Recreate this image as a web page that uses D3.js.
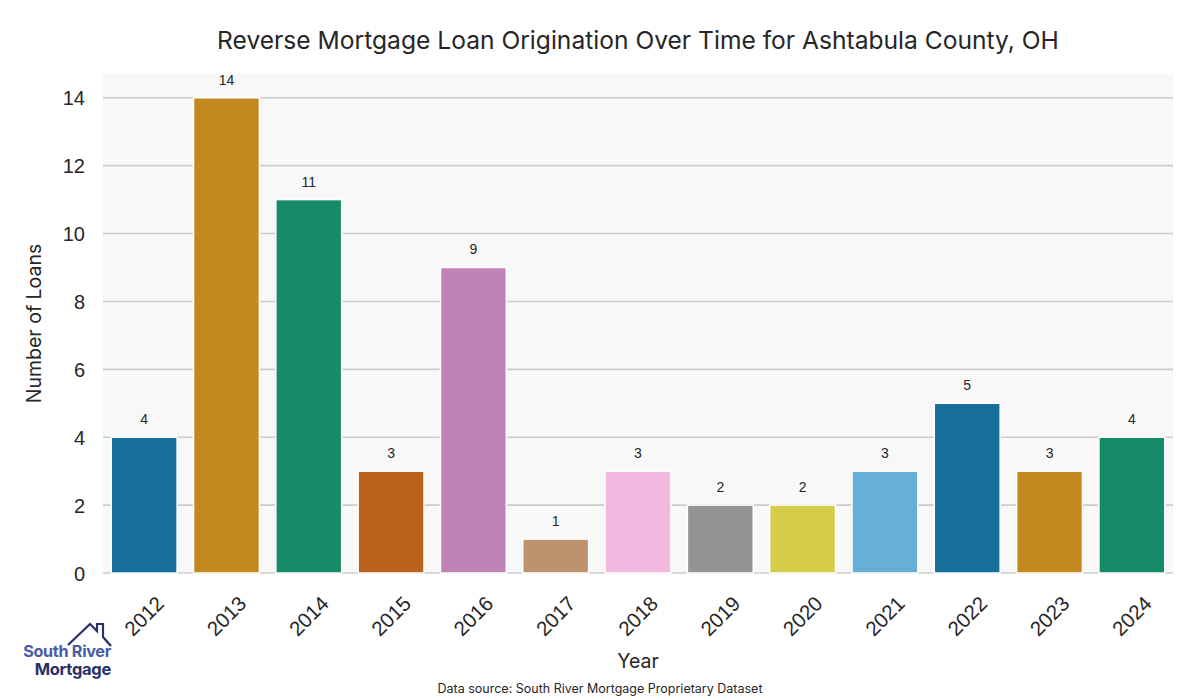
<!DOCTYPE html>
<html>
<head>
<meta charset="utf-8">
<script src="https://cdn.jsdelivr.net/npm/d3@7"></script>
<style>
  html, body { margin: 0; padding: 0; background: #fff; }
  svg { display: block; }
</style>
</head>
<body>
<svg id="chart" width="1200" height="700"></svg>
<script>
const years = ["2012","2013","2014","2015","2016","2017","2018","2019","2020","2021","2022","2023","2024"];
const loans = [4, 14, 11, 3, 9, 1, 3, 2, 2, 3, 5, 3, 4];
const yTicks = [0, 2, 4, 6, 8, 10, 12, 14];
const palette = ["#176D9C","#C38820","#168B6A","#BB611B","#C182B5","#BD926E","#F1B8E0","#949494","#D5CD4A","#68AFD7"];

const titleText = "Reverse Mortgage Loan Origination Over Time for Ashtabula County, OH";
const xLabel = "Year";
const yLabel = "Number of Loans";
const sourceText = "Data source: South River Mortgage Proprietary Dataset";

const svg = d3.select("#chart");
const W = 1200, H = 700;
const m = { left: 103, right: 1173, top: 74, bottom: 573 };

const x = d3.scaleBand().domain(years).range([m.left, m.right]).paddingInner(0.2).paddingOuter(0.1);
const y = d3.scaleLinear().domain([0, 14.7]).range([m.bottom, m.top]);

// plot background
svg.append("rect").attr("x", m.left).attr("y", m.top)
  .attr("width", m.right - m.left).attr("height", m.bottom - m.top)
  .attr("fill", "#f8f8f8");

// grid
svg.append("g").selectAll("line").data(yTicks).join("line")
  .attr("x1", m.left).attr("x2", m.right)
  .attr("y1", d => y(d)).attr("y2", d => y(d))
  .attr("stroke", "#cccccc").attr("stroke-width", 1.6);

// y axis labels
const yAxis = d3.axisLeft(y).tickValues(yTicks).tickSize(0).tickPadding(0);
const gy = svg.append("g").attr("transform", `translate(${m.left - 18},0)`).call(yAxis);
gy.select(".domain").remove();
gy.selectAll("text").attr("font-family", "'Liberation Sans', Arial, sans-serif")
  .attr("font-size", 20).attr("fill", "#262626").attr("dy", "0.35em");

// bars
svg.append("g").selectAll("rect").data(years).join("rect")
  .attr("x", d => x(d)).attr("width", x.bandwidth())
  .attr("y", (d, i) => y(loans[i])).attr("height", (d, i) => y(0) - y(loans[i]))
  .attr("fill", (d, i) => palette[i % palette.length])
  .attr("stroke", "#ffffff").attr("stroke-width", 1.5);

// value labels
svg.append("g").selectAll("text").data(years).join("text")
  .attr("x", d => x(d) + x.bandwidth() / 2)
  .attr("y", (d, i) => y(loans[i]) - 13)
  .attr("text-anchor", "middle")
  .attr("font-family", "'Liberation Sans', Arial, sans-serif")
  .attr("font-size", 14).attr("fill", "#262626")
  .text((d, i) => loans[i]);

// x axis labels
const xAxis = d3.axisBottom(x).tickSize(0).tickPadding(0);
const gx = svg.append("g").attr("transform", `translate(0,${m.bottom})`).call(xAxis);
gx.select(".domain").remove();
gx.selectAll("text")
  .attr("font-family", "'Liberation Sans', Arial, sans-serif")
  .attr("font-size", 20.5).attr("fill", "#262626")
  .attr("text-anchor", "middle").attr("dy", "0.35em")
  .attr("transform", "translate(0,43) rotate(-45)")
  .attr("y", 0);

// title
svg.append("text").attr("x", (m.left + m.right) / 2).attr("y", 49)
  .attr("text-anchor", "middle").attr("font-family", "Inter, 'Open Sans', sans-serif")
  .attr("font-size", 24.6).attr("fill", "#262626").text(titleText);

// axis titles
svg.append("text").attr("x", (m.left + m.right) / 2).attr("y", 668)
  .attr("text-anchor", "middle").attr("font-family", "Inter, sans-serif")
  .attr("font-size", 19.5).attr("fill", "#262626").text(xLabel);

svg.append("text").attr("transform", `translate(41,${(m.top + m.bottom) / 2}) rotate(-90)`)
  .attr("text-anchor", "middle").attr("font-family", "Inter, sans-serif")
  .attr("font-size", 19.5).attr("fill", "#262626").text(yLabel);

// data source
svg.append("text").attr("x", W / 2).attr("y", 693)
  .attr("text-anchor", "middle").attr("font-family", "Inter, sans-serif")
  .attr("font-size", 12.5).attr("fill", "#262626").text(sourceText);

// logo
const logo = svg.append("g");
logo.append("path")
  .attr("d", "M68,645 L90,624 L97,631 L97,624 L103,624 L103,637 L111,646")
  .attr("fill", "none").attr("stroke", "#28306b").attr("stroke-width", 2.2)
  .attr("stroke-linejoin", "miter");
logo.append("text").attr("x", 111).attr("y", 657).attr("text-anchor", "end")
  .attr("font-family", "Inter, sans-serif").attr("font-weight", 700)
  .attr("font-size", 16.2).attr("fill", "#4a5ba8").attr("letter-spacing", -0.3).text("South River");
logo.append("text").attr("x", 111).attr("y", 675).attr("text-anchor", "end")
  .attr("font-family", "Inter, sans-serif").attr("font-weight", 700)
  .attr("font-size", 16.5).attr("fill", "#28306b").attr("letter-spacing", -0.3).text("Mortgage");
</script>
</body>
</html>
